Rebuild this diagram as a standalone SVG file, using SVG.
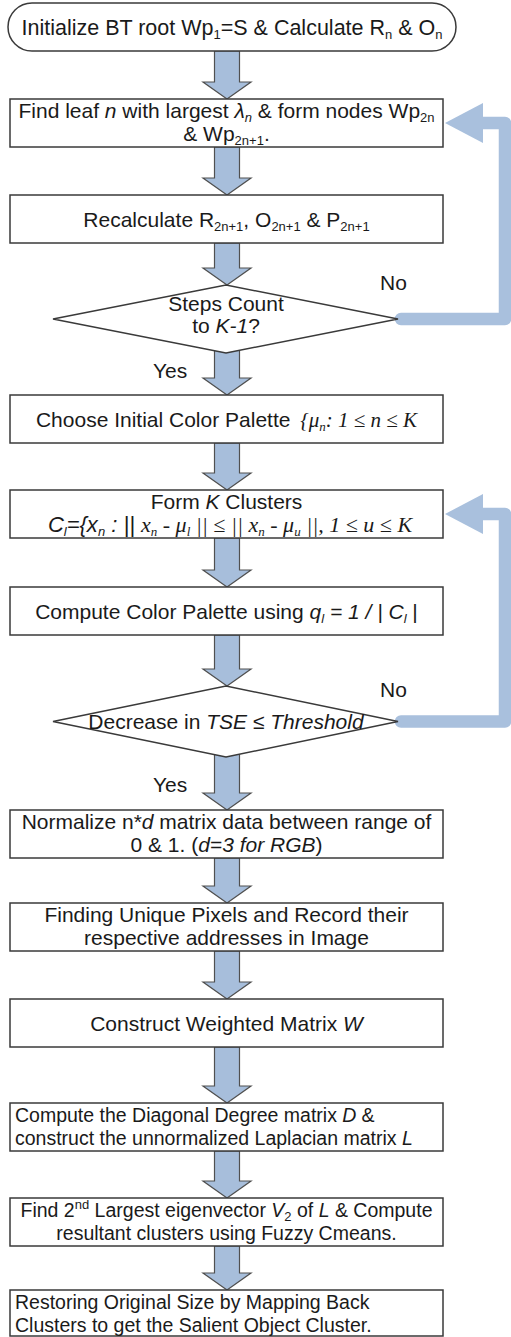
<svg xmlns="http://www.w3.org/2000/svg" width="511" height="1337" viewBox="0 0 511 1337">
<style>
.box{fill:#fff;stroke:#3a3a3a;stroke-width:1.5}
.arr{fill:#a7bedb;stroke:#505050;stroke-width:1.2}
.loop{fill:none;stroke:#a9c0dd;stroke-width:12.5;stroke-linecap:round;stroke-linejoin:round}
.head{fill:#a9c0dd}
text{font-family:"Liberation Sans",Arial,sans-serif;font-size:21px;fill:#1a1a1a}
.c{text-anchor:middle}
.sm{font-size:19.5px}
.i{font-style:italic}
.tr{font-family:"Liberation Serif","Times New Roman",serif;font-style:italic}
.sb{font-size:13px}
</style>
<rect width="511" height="1337" fill="#fff"/>
<g id="connectors">
  <polygon class="arr" points="214.5,51 239.5,51 239.5,82 251,82 227,99 203,82 214.5,82"/>
  <polygon class="arr" points="214.5,147 239.5,147 239.5,178 251,178 227,195 203,178 214.5,178"/>
  <polygon class="arr" points="214.5,243 239.5,243 239.5,268 251,268 227,285 203,268 214.5,268"/>
  <polygon class="arr" points="214.5,350 239.5,350 239.5,378 251,378 227,395 203,378 214.5,378"/>
  <polygon class="arr" points="214.5,443 239.5,443 239.5,473 251,473 227,490 203,473 214.5,473"/>
  <polygon class="arr" points="214.5,538 239.5,538 239.5,570 251,570 227,587 203,570 214.5,570"/>
  <polygon class="arr" points="214.5,635 239.5,635 239.5,669 251,669 227,686 203,669 214.5,669"/>
  <polygon class="arr" points="214.5,754 239.5,754 239.5,793 251,793 227,810 203,793 214.5,793"/>
  <polygon class="arr" points="214.5,858 239.5,858 239.5,886 251,886 227,903 203,886 214.5,886"/>
  <polygon class="arr" points="214.5,951 239.5,951 239.5,982 251,982 227,999 203,982 214.5,982"/>
  <polygon class="arr" points="214.5,1047 239.5,1047 239.5,1086 251,1086 227,1103 203,1086 214.5,1086"/>
  <polygon class="arr" points="214.5,1151 239.5,1151 239.5,1181 251,1181 227,1198 203,1181 214.5,1181"/>
  <polygon class="arr" points="214.5,1246 239.5,1246 239.5,1273 251,1273 227,1290 203,1273 214.5,1273"/>
  <path class="loop" d="M401,319 H505 V123 H476"/>
  <polygon class="head" points="445,123 483,103 483,143"/>
  <path class="loop" d="M401,721.5 H505 V514 H476"/>
  <polygon class="head" points="445,514 483,494 483,534"/>
  <text x="380" y="290">No</text>
  <text x="153" y="378">Yes</text>
  <text x="380" y="697">No</text>
  <text x="153" y="792">Yes</text>
</g>
<g id="start">
  <rect class="box" x="8" y="3" width="448" height="48" rx="24" ry="24"/>
  <text class="c" x="232" y="35" style="font-size:21.5px">Initialize BT root Wp<tspan class="sb" dy="4">1</tspan><tspan dy="-4">=S &amp; Calculate R</tspan><tspan class="sb" dy="4">n</tspan><tspan dy="-4"> &amp; O</tspan><tspan class="sb" dy="4">n</tspan></text>
</g>
<g id="find-leaf">
  <rect class="box" x="10" y="99" width="433" height="48"/>
  <text class="c" x="226.5" y="117.5">Find leaf <tspan class="i">n</tspan> with largest <tspan class="i">λ</tspan><tspan class="sb i" dy="4">n</tspan><tspan dy="-4"> &amp; form nodes Wp</tspan><tspan class="sb" dy="4">2n</tspan></text>
  <text class="c" x="226.5" y="140.5">&amp; Wp<tspan class="sb" dy="4">2n+1</tspan><tspan dy="-4">.</tspan></text>
</g>
<g id="recalculate">
  <rect class="box" x="10" y="195" width="433" height="48"/>
  <text class="c" x="226.5" y="226.5">Recalculate R<tspan class="sb" dy="4">2n+1</tspan><tspan dy="-4">, O</tspan><tspan class="sb" dy="4">2n+1</tspan><tspan dy="-4"> &amp; P</tspan><tspan class="sb" dy="4">2n+1</tspan></text>
</g>
<g id="steps-count">
  <polygon class="box" points="53,319 226,285 398,319 226,353"/>
  <text class="c" x="226" y="311">Steps Count</text>
  <text class="c" x="226" y="333">to <tspan class="i">K-1</tspan>?</text>
</g>
<g id="initial-palette">
  <rect class="box" x="10" y="395" width="433" height="48"/>
  <text class="c" x="226.5" y="426.5">Choose Initial Color Palette <tspan class="tr" dx="4">{μ</tspan><tspan class="tr sb" dy="4">n</tspan><tspan class="tr" dy="-4">: 1 ≤ n ≤ K</tspan></text>
</g>
<g id="form-clusters">
  <rect class="box" x="10" y="490" width="433" height="48"/>
  <text class="c" x="226.5" y="508.5">Form <tspan class="i">K</tspan> Clusters</text>
  <text class="c" x="230" y="531.5" style="font-size:22px"><tspan class="i">C</tspan><tspan class="i sb" dy="4">l</tspan><tspan class="i" dy="-4">={x</tspan><tspan class="i sb" dy="4">n</tspan><tspan class="i" dy="-4"> : || </tspan><tspan class="tr">x</tspan><tspan class="tr sb" dy="4">n</tspan><tspan class="tr" dy="-4"> - μ</tspan><tspan class="tr sb" dy="4">l</tspan><tspan class="tr" dy="-4"> || ≤ || x</tspan><tspan class="tr sb" dy="4">n</tspan><tspan class="tr" dy="-4"> - μ</tspan><tspan class="tr sb" dy="4">u</tspan><tspan class="tr" dy="-4"> ||, 1 ≤ u ≤ K</tspan></text>
</g>
<g id="compute-palette">
  <rect class="box" x="10" y="587" width="433" height="48"/>
  <text class="c" x="226.5" y="618.5">Compute Color Palette using <tspan class="i">q</tspan><tspan class="i sb" dy="4">l</tspan><tspan class="i" dy="-4"> = 1 / | C</tspan><tspan class="i sb" dy="4">l</tspan><tspan dy="-4"> |</tspan></text>
</g>
<g id="tse-decision">
  <polygon class="box" points="53,721.5 226,686 398,721.5 226,757"/>
  <text class="c" x="226" y="729">Decrease in <tspan class="i">TSE</tspan> ≤ <tspan class="i">Threshold</tspan></text>
</g>
<g id="normalize">
  <rect class="box" x="10" y="810" width="433" height="48"/>
  <text class="c" x="226.5" y="828.5">Normalize n*<tspan class="i">d</tspan> matrix data between range of</text>
  <text class="c" x="226.5" y="851.5">0 &amp; 1. (<tspan class="i">d=3 for RGB</tspan>)</text>
</g>
<g id="unique-pixels">
  <rect class="box" x="10" y="903" width="433" height="48"/>
  <text class="c" x="226.5" y="921.5">Finding Unique Pixels and Record their</text>
  <text class="c" x="226.5" y="944.5">respective addresses in Image</text>
</g>
<g id="weighted-matrix">
  <rect class="box" x="10" y="999" width="433" height="48"/>
  <text class="c" x="226.5" y="1030.5">Construct Weighted Matrix <tspan class="i">W</tspan></text>
</g>
<g id="laplacian">
  <rect class="box" x="10" y="1103" width="433" height="48"/>
  <text class="sm" x="15" y="1121.5">Compute the Diagonal Degree matrix <tspan class="i">D</tspan><tspan dx="5">&amp;</tspan></text>
  <text class="sm" x="15" y="1144.5">construct the unnormalized Laplacian matrix <tspan class="i">L</tspan></text>
</g>
<g id="eigenvector">
  <rect class="box" x="10" y="1198" width="433" height="48"/>
  <text class="c sm" x="226.5" y="1216.5">Find 2<tspan class="sb" dy="-8">nd</tspan><tspan dy="8"> Largest eigenvector </tspan><tspan class="i">V</tspan><tspan class="sb" dy="4">2</tspan><tspan dy="-4"> of </tspan><tspan class="i">L</tspan> &amp; Compute</text>
  <text class="c sm" x="226.5" y="1239.5">resultant clusters using Fuzzy Cmeans.</text>
</g>
<g id="restore">
  <rect class="box" x="10" y="1290" width="433" height="46"/>
  <text class="sm" x="15" y="1308.5">Restoring Original Size by Mapping Back</text>
  <text class="sm" x="15" y="1331.5">Clusters to get the Salient Object Cluster.</text>
</g>
</svg>
